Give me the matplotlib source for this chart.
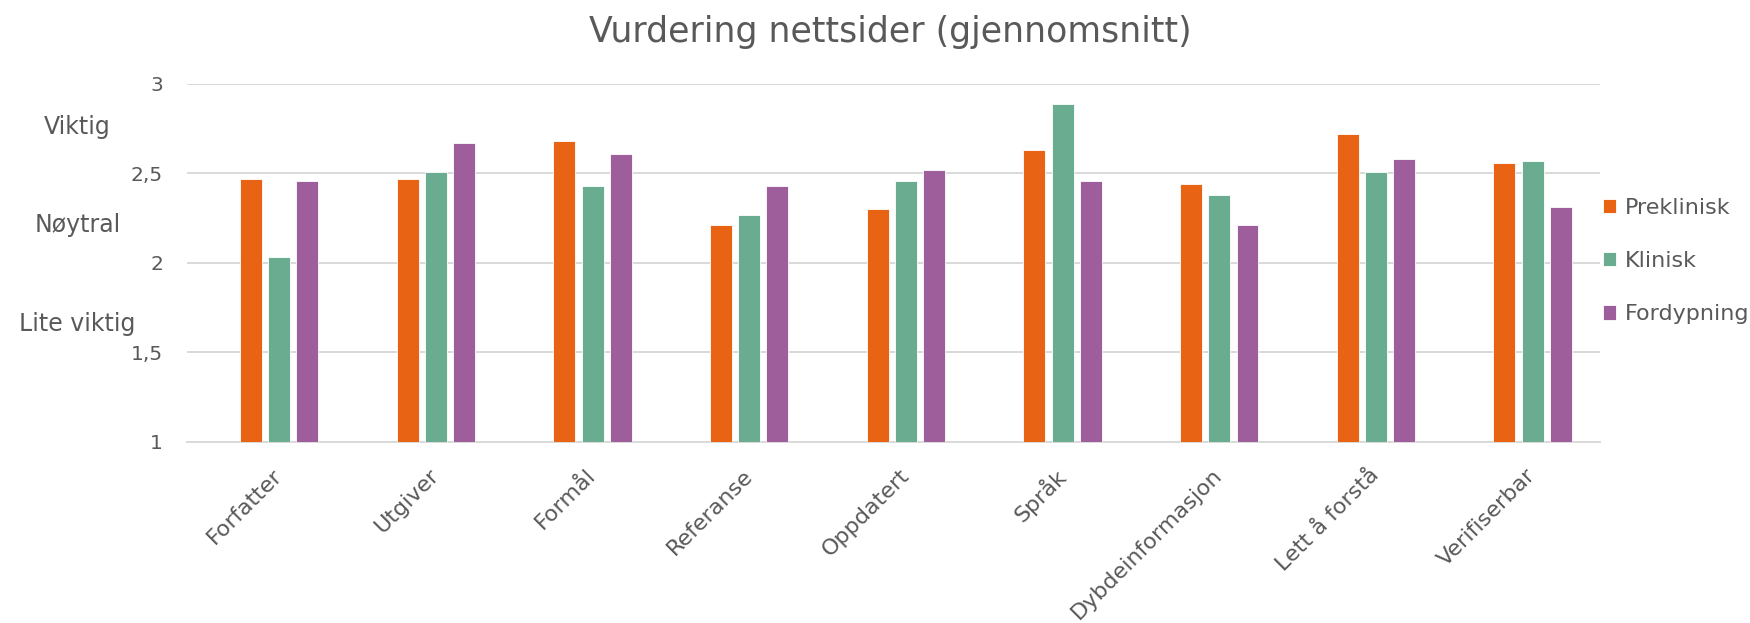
import numpy as np
import matplotlib.pyplot as plt

# Data
kategorier = ['Forfatter', 'Utgiver', 'Formål', 'Referanse', 'Oppdatert',
              'Språk', 'Dybdeinformasjon', 'Lett å forstå', 'Verifiserbar']
preklinisk = [2.47, 2.47, 2.68, 2.21, 2.30, 2.63, 2.44, 2.72, 2.56]
klinisk = [2.03, 2.51, 2.43, 2.27, 2.46, 2.89, 2.38, 2.51, 2.57]
fordypning = [2.46, 2.67, 2.61, 2.43, 2.52, 2.46, 2.21, 2.58, 2.31]
serier = ['Preklinisk', 'Klinisk', 'Fordypning']

y_ticks = [1, 1.5, 2, 2.5, 3]
y_ticklabels = ['1', '1,5', '2', '2,5', '3']
skala = ['Viktig', 'Nøytral', 'Lite viktig']
skala_pos = [0.785, 0.628, 0.469]

farger = ['#E96315', '#6AAC8F', '#9E5E9B']
tekst = '#595959'

plt.rcParams['font.family'] = ['DejaVu Sans']

fig = plt.figure(figsize=(17.5, 6.23), dpi=100)
ax = fig.add_axes([0.1067, 0.291, 0.8076, 0.5742])

x = np.arange(len(kategorier))
bredde = 0.14
steg = 0.18
for i, (verdier, navn) in enumerate(zip([preklinisk, klinisk, fordypning], serier)):
    ax.bar(x + (i - 1) * steg, np.array(verdier) - 1, bredde, bottom=1,
           color=farger[i], edgecolor='white', linewidth=0.6, label=navn, zorder=3)

ax.set_ylim(1, 3)
ax.set_xlim(-0.59, 8.43)
ax.set_yticks(y_ticks)
ax.set_yticklabels(y_ticklabels, fontsize=14.5, color=tekst)
ax.set_xticks(x)
ax.set_xticklabels(kategorier, rotation=45, ha='right', va='center',
                   rotation_mode='anchor', fontsize=16, color=tekst)
ax.tick_params(axis='both', length=0)
ax.tick_params(axis='x', pad=22)
ax.tick_params(axis='y', pad=17)
ax.yaxis.grid(True, color='#D9D9D9', linewidth=1.4, zorder=0)
ax.set_axisbelow(True)
for s in ['top', 'right', 'left']:
    ax.spines[s].set_visible(False)
ax.spines['bottom'].set_color('#D9D9D9')
ax.spines['bottom'].set_linewidth(1.4)

# Skala-tekster til venstre
for t, yp in zip(skala, skala_pos):
    fig.text(0.0443, yp, t, ha='center', va='baseline', fontsize=17, color=tekst)

fig.text(0.509, 0.933, 'Vurdering nettsider (gjennomsnitt)', ha='center',
         va='baseline', fontsize=25, color=tekst)

leg = ax.legend(loc='center left', bbox_to_anchor=(0.988, 0.505), frameon=False,
                fontsize=16, handlelength=0.6, handleheight=0.6, handletextpad=0.4,
                labelspacing=1.5, labelcolor=tekst)

fig.savefig('out.png', dpi=100)
